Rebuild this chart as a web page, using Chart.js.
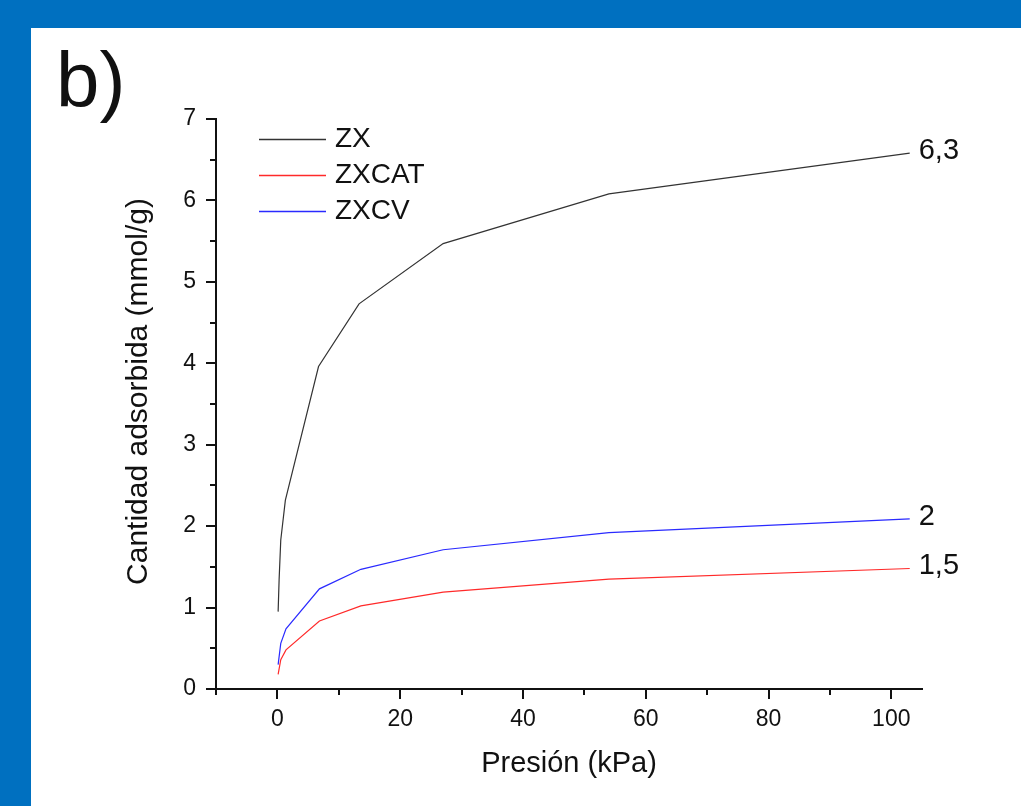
<!DOCTYPE html>
<html>
<head>
<meta charset="utf-8">
<script src="https://cdn.jsdelivr.net/npm/chart.js@4/dist/chart.umd.min.js"></script>
<style>
  html, body { margin:0; padding:0; width:1021px; height:806px; overflow:hidden; background:#0070C0; }
  #panel { position:absolute; left:31px; top:28px; right:0; bottom:0; background:#fff; }
  #tag { position:absolute; left:56px; top:41px; font:78px/78px 'Liberation Sans', Arial, sans-serif; color:#111; }
  #chart { position:absolute; left:0; top:0; }
</style>
</head>
<body>
<div id="panel"></div>
<div id="tag">b)</div>
<canvas id="chart" width="1021" height="806"></canvas>
<script>
// ----- Data -----
const SERIES = ['ZX', 'ZXCAT', 'ZXCV'];
const END_LABELS = ['6,3', '1,5', '2'];

const ZX_P = [0.12, 0.28, 0.55, 1.3, 6.7, 13.3, 27, 54, 103];
const ZX_Q = [0.95, 1.34, 1.83, 2.32, 3.96, 4.73, 5.47, 6.08, 6.58];

const ZXCAT_P = [0.12, 0.55, 1.4, 6.85, 13.6, 27, 54, 103];
const ZXCAT_Q = [0.18, 0.36, 0.48, 0.835, 1.02, 1.19, 1.35, 1.48];

const ZXCV_P = [0.12, 0.55, 1.4, 6.85, 13.6, 27, 54, 103];
const ZXCV_Q = [0.30, 0.56, 0.74, 1.23, 1.47, 1.71, 1.92, 2.09];

const X_TICKS = [0, 20, 40, 60, 80, 100];
const X_MINOR = [-10, 10, 30, 50, 70, 90];
const Y_TICKS = [0, 1, 2, 3, 4, 5, 6, 7];
const Y_MINOR = [0.5, 1.5, 2.5, 3.5, 4.5, 5.5, 6.5];

// ----- Style -----
const FONT = "'Liberation Sans', Arial, sans-serif";
const COLORS = ['#333333', '#ff2a2a', '#2a2aff'];
const INK = '#111';

function pts(xs, ys){ return xs.map((x,i)=>({x, y:ys[i]})); }
const DATA = [pts(ZX_P, ZX_Q), pts(ZXCAT_P, ZXCAT_Q), pts(ZXCV_P, ZXCV_Q)];

// tick marks (major + minor) drawn through the scales
const tickMarks = {
  id:'tickMarks',
  afterDraw(chart){
    const {ctx, scales:{x, y}} = chart;
    ctx.save(); ctx.strokeStyle = INK; ctx.lineWidth = 2;
    const seg = (a,b,c,d)=>{ ctx.beginPath(); ctx.moveTo(a,b); ctx.lineTo(c,d); ctx.stroke(); };
    X_TICKS.forEach(v=>{ const p = Math.round(x.getPixelForValue(v)); seg(p, x.top, p, x.top+10); });
    X_MINOR.forEach(v=>{ const p = Math.round(x.getPixelForValue(v)); seg(p, x.top, p, x.top+6); });
    Y_TICKS.forEach(v=>{ const p = Math.round(y.getPixelForValue(v)); seg(y.right, p, y.right-10, p); });
    Y_MINOR.forEach(v=>{ const p = Math.round(y.getPixelForValue(v)); seg(y.right, p, y.right-6, p); });
    ctx.restore();
  }
};

// inline legend + end-of-line labels
const annotate = {
  id:'annotate',
  afterDatasetsDraw(chart){
    const {ctx, scales:{x, y}} = chart;
    ctx.save();
    ctx.textBaseline = 'middle';
    // legend
    ctx.font = '28px ' + FONT;
    chart.data.datasets.forEach((ds,i)=>{
      const ly = 139.5 + i*36;
      ctx.strokeStyle = ds.borderColor; ctx.lineWidth = 1.4;
      ctx.beginPath(); ctx.moveTo(259, ly); ctx.lineTo(326, ly); ctx.stroke();
      ctx.fillStyle = INK;
      ctx.fillText(ds.label, 335, ly);
    });
    // end labels
    ctx.font = '29px ' + FONT;
    ctx.fillStyle = INK;
    chart.data.datasets.forEach((ds,i)=>{
      const last = ds.data[ds.data.length-1];
      ctx.fillText(END_LABELS[i], x.getPixelForValue(last.x)+9, y.getPixelForValue(last.y)-2);
    });
    ctx.restore();
  }
};

const ctx = document.getElementById('chart').getContext('2d');
new Chart(ctx, {
  type:'line',
  data:{
    datasets: SERIES.map((s,i)=>({
      label:s, data:DATA[i], borderColor:COLORS[i], borderWidth:1.2,
      pointRadius:0, tension:0, fill:false
    }))
  },
  options:{
    responsive:false,
    devicePixelRatio:1,
    animation:false,
    layout:{ padding:{ left:100, top:119, right:99, bottom:0 } },
    plugins:{ legend:{display:false}, tooltip:{enabled:false} },
    scales:{
      x:{
        type:'linear', position:'bottom', min:-10, max:105,
        afterBuildTicks:s=>{ s.ticks = X_TICKS.map(v=>({value:v})); },
        afterFit:s=>{ s.height = 117; },
        ticks:{ color:INK, font:{family:FONT, size:23}, padding:17, maxRotation:0, autoSkip:false },
        grid:{ drawOnChartArea:false, drawTicks:false },
        border:{ display:true, color:INK, width:2 },
        title:{ display:true, text:'Presión (kPa)', color:INK, font:{family:FONT, size:29}, padding:{top:0, bottom:25} }
      },
      y:{
        type:'linear', position:'left', min:0, max:7,
        afterBuildTicks:s=>{ s.ticks = Y_TICKS.map(v=>({value:v})); },
        afterFit:s=>{ s.width = 116; },
        ticks:{ color:INK, font:{family:FONT, size:23}, padding:20, autoSkip:false },
        grid:{ drawOnChartArea:false, drawTicks:false },
        border:{ display:true, color:INK, width:2 },
        title:{ display:true, text:'   Cantidad adsorbida (mmol/g)', color:INK, font:{family:FONT, size:30}, padding:{top:21, bottom:0} }
      }
    }
  },
  plugins:[tickMarks, annotate]
});
</script>
</body>
</html>
